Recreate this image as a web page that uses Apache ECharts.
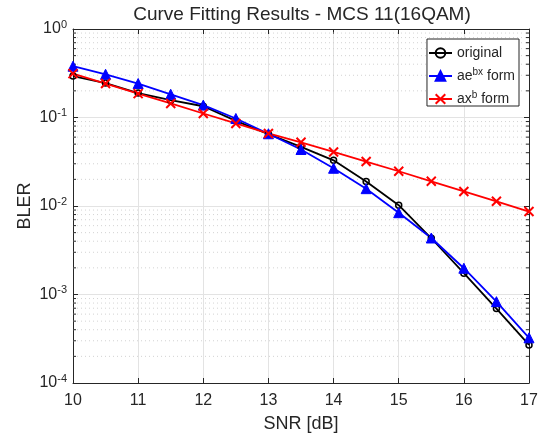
<!DOCTYPE html>
<html>
<head>
<meta charset="utf-8">
<script src="https://cdn.jsdelivr.net/npm/echarts@6/dist/echarts.min.js"></script>
<style>html,body{margin:0;padding:0;background:#fff;}#c{width:549px;height:440px;}</style>
</head>
<body>
<div id="c"></div>
<script>
const snr = [10, 10.5, 11, 11.5, 12, 12.5, 13, 13.5, 14, 14.5, 15, 15.5, 16, 16.5, 17];
const original = [0.294, 0.245, 0.189, 0.157, 0.134, 0.0916, 0.0648, 0.0466, 0.0328, 0.0189, 0.0102, 0.00432, 0.00174, 0.000694, 0.000269];
const expForm = [0.38, 0.308, 0.242, 0.183, 0.138, 0.0975, 0.0655, 0.0435, 0.0267, 0.0157, 0.0084, 0.00435, 0.00198, 0.00083, 0.000324];
const powForm = [0.313, 0.242, 0.186, 0.144, 0.111, 0.0856, 0.066, 0.0525, 0.0408, 0.0318, 0.0247, 0.019, 0.0146, 0.0113, 0.00865];
const xTicks = [10, 11, 12, 13, 14, 15, 16, 17];
const yDecades = [-4, -3, -2, -1, 0];
const minorMultipliers = [2, 3, 4, 5, 6, 7, 8, 9];

const names = ['original', 'ae^bx form', 'ax^b form'];
const legendText = {'original': 'original', 'ae^bx form': 'ae{sup|bx} form', 'ax^b form': 'ax{sup|b} form'};

const minorVals = [];
yDecades.slice(0, -1).forEach(d => minorMultipliers.forEach(m => minorVals.push([10, m * Math.pow(10, d)])));

const pair = arr => snr.map((x, i) => [x, arr[i]]);
const textColor = '#262626';
const font = 'Liberation Sans, Arial, sans-serif';

const chart = echarts.init(document.getElementById('c'));
chart.setOption({
  animation: false,
  backgroundColor: '#fff',
  title: {
    text: 'Curve Fitting Results - MCS 11(16QAM)',
    left: 297, top: 0, textAlign: 'center',
    textStyle: {fontFamily: font, fontSize: 19, fontWeight: 'normal', color: textColor}
  },
  grid: {left: 73, right: 20, top: 29, bottom: 57, containLabel: false},
  legend: {
    data: names,
    orient: 'vertical',
    right: 30, top: 39,
    backgroundColor: '#fff',
    borderColor: textColor, borderWidth: 1, borderRadius: 0,
    padding: [7, 4, 0, 1],
    itemWidth: 23, itemHeight: 12, itemGap: 7,
    formatter: n => legendText[n],
    textStyle: {
      fontFamily: font, fontSize: 14, color: textColor,
      rich: {sup: {fontSize: 10, fontFamily: font, color: textColor, padding: [0, 0, 8, 0]}}
    }
  },
  xAxis: [{
    type: 'value', min: 10, max: 17, interval: 1,
    name: 'SNR [dB]', nameLocation: 'middle', nameGap: 32, nameMoveOverlap: false,
    nameTextStyle: {fontFamily: font, fontSize: 18, color: textColor},
    axisLine: {show: true, lineStyle: {color: textColor, width: 1}},
    axisTick: {show: true, inside: true, length: 5, lineStyle: {color: textColor}},
    axisLabel: {fontFamily: font, fontSize: 16, color: textColor, margin: 10,
      formatter: v => xTicks.includes(v) ? String(v) : ''},
    splitLine: {show: true, lineStyle: {color: '#e3e3e3', width: 1}}
  }, {
    type: 'value', min: 10, max: 17, interval: 1, position: 'top',
    axisLine: {show: true, lineStyle: {color: textColor, width: 1}},
    axisTick: {show: true, inside: true, length: 5, lineStyle: {color: textColor}},
    axisLabel: {show: false}, splitLine: {show: false}
  }],
  yAxis: [{
    type: 'log', logBase: 10, min: 1e-4, max: 1,
    name: 'BLER', nameLocation: 'middle', nameGap: 39, nameMoveOverlap: false,
    nameTextStyle: {fontFamily: font, fontSize: 18, color: textColor},
    axisLine: {show: true, lineStyle: {color: textColor, width: 1}},
    axisTick: {show: true, inside: true, length: 5, lineStyle: {color: textColor}},
    axisLabel: {
      fontFamily: font, fontSize: 16, color: textColor, margin: 6,
      formatter: v => '10{sup|' + Math.round(Math.log10(v)) + '}',
      rich: {sup: {fontSize: 11, fontFamily: font, color: textColor, padding: [0, 0, 9, 0]}}
    },
    splitLine: {show: true, lineStyle: {color: '#e3e3e3', width: 1}}
  }, {
    type: 'log', logBase: 10, min: 1e-4, max: 1, position: 'right',
    axisLine: {show: true, lineStyle: {color: textColor, width: 1}},
    axisTick: {show: true, inside: true, length: 5, lineStyle: {color: textColor}},
    axisLabel: {show: false}, splitLine: {show: false}
  }],
  series: [{
    type: 'custom',
    name: 'minorGrid',
    silent: true,
    z: 1,
    data: minorVals,
    encode: {x: 0, y: 1},
    renderItem: (params, api) => {
      const cs = params.coordSys;
      const y = api.coord([10, api.value(1)])[1];
      return {
        type: 'group',
        children: [
          {type: 'line', shape: {x1: cs.x, y1: y, x2: cs.x + cs.width, y2: y},
            style: {stroke: '#c8c8c8', lineWidth: 0.8, lineDash: [1, 3]}},
          {type: 'line', shape: {x1: cs.x, y1: y, x2: cs.x + 3, y2: y},
            style: {stroke: textColor, lineWidth: 1}},
          {type: 'line', shape: {x1: cs.x + cs.width - 3, y1: y, x2: cs.x + cs.width, y2: y},
            style: {stroke: textColor, lineWidth: 1}}
        ]
      };
    }
  }, {
    type: 'line', name: names[0], data: pair(original), z: 3,
    symbol: 'circle', symbolSize: 6,
    lineStyle: {color: '#000', width: 1.8},
    itemStyle: {color: 'rgba(0,0,0,0)', borderColor: '#000', borderWidth: 1.5}
  }, {
    type: 'line', name: names[1], data: pair(expForm), z: 3,
    symbol: 'triangle', symbolSize: 10,
    lineStyle: {color: '#0000ff', width: 1.8},
    itemStyle: {color: '#0000ff', borderColor: '#0000ff', borderWidth: 1}
  }, {
    type: 'line', name: names[2], data: pair(powForm), z: 3,
    symbol: 'path://M0,0L10,10M0,10L10,0', symbolSize: 9,
    lineStyle: {color: '#ff0000', width: 1.8},
    itemStyle: {color: '#ff0000', borderColor: '#ff0000', borderWidth: 2}
  }]
});
</script>
</body>
</html>
